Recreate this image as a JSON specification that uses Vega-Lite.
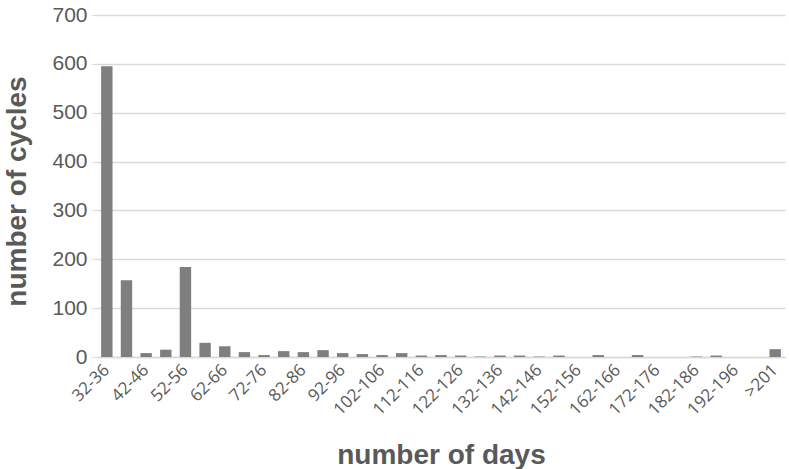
{
  "$schema": "https://vega.github.io/schema/vega-lite/v6.json",
  "autosize": "none",
  "width": 688,
  "height": 342,
  "padding": {"left": 97, "top": 15, "right": 4, "bottom": 112},
  "background": "white",
  "data": {"values": [
    {"range": "32-36", "cycles": 595},
    {"range": "37-41", "cycles": 157},
    {"range": "42-46", "cycles": 8},
    {"range": "47-51", "cycles": 15},
    {"range": "52-56", "cycles": 184},
    {"range": "57-61", "cycles": 29},
    {"range": "62-66", "cycles": 22},
    {"range": "67-71", "cycles": 10},
    {"range": "72-76", "cycles": 4},
    {"range": "77-81", "cycles": 12},
    {"range": "82-86", "cycles": 10},
    {"range": "87-91", "cycles": 14},
    {"range": "92-96", "cycles": 8},
    {"range": "97-101", "cycles": 6},
    {"range": "102-106", "cycles": 4},
    {"range": "107-111", "cycles": 8},
    {"range": "112-116", "cycles": 3},
    {"range": "117-121", "cycles": 4},
    {"range": "122-126", "cycles": 3},
    {"range": "127-131", "cycles": 1},
    {"range": "132-136", "cycles": 3},
    {"range": "137-141", "cycles": 3},
    {"range": "142-146", "cycles": 1},
    {"range": "147-151", "cycles": 3},
    {"range": "152-156", "cycles": 0},
    {"range": "157-161", "cycles": 4},
    {"range": "162-166", "cycles": 0},
    {"range": "167-171", "cycles": 4},
    {"range": "172-176", "cycles": 0},
    {"range": "177-181", "cycles": 0},
    {"range": "182-186", "cycles": 1},
    {"range": "187-191", "cycles": 3},
    {"range": "192-196", "cycles": 0},
    {"range": "197-201", "cycles": 0},
    {"range": ">201", "cycles": 16}
  ]},
  "mark": {"type": "bar", "color": "#7f7f7f"},
  "encoding": {
    "x": {
      "field": "range",
      "type": "nominal",
      "sort": null,
      "scale": {"paddingInner": 0.42, "paddingOuter": 0.21},
      "axis": {
        "title": "number of days",
        "values": ["32-36","42-46","52-56","62-66","72-76","82-86","92-96","102-106","112-116","122-126","132-136","142-146","152-156","162-166","172-176","182-186","192-196",">201"],
        "labelAngle": -45,
        "labelAlign": "right",
        "labelBaseline": "middle",
        "labelFont": "Open Sans",
        "labelFontSize": 17,
        "labelColor": "#595959",
        "labelPadding": 10,
        "ticks": false,
        "domainColor": "#d9d9d9",
        "domainWidth": 1.5,
        "titleFont": "Liberation Sans",
        "titleFontSize": 28,
        "titleFontWeight": "bold",
        "titleColor": "#595959",
        "titleBaseline": "alphabetic",
        "titleY": 106,
        "titleX": 344
      }
    },
    "y": {
      "field": "cycles",
      "type": "quantitative",
      "scale": {"domain": [0, 700], "nice": false},
      "axis": {
        "title": "number of cycles",
        "values": [0,100,200,300,400,500,600,700],
        "domain": false,
        "gridColor": "#d9d9d9",
        "gridWidth": 1.5,
        "tickColor": "#d9d9d9",
        "tickSize": 5,
        "labelPadding": 5,
        "labelFont": "Liberation Sans",
        "labelFontSize": 21,
        "labelColor": "#595959",
        "titleFont": "Liberation Sans",
        "titleFontSize": 28,
        "titleFontWeight": "bold",
        "titleColor": "#595959",
        "titleAngle": -90,
        "titleAlign": "center",
        "titleBaseline": "alphabetic",
        "titleX": -72,
        "titleY": 176
      }
    }
  },
  "config": {"view": {"stroke": null}}
}
